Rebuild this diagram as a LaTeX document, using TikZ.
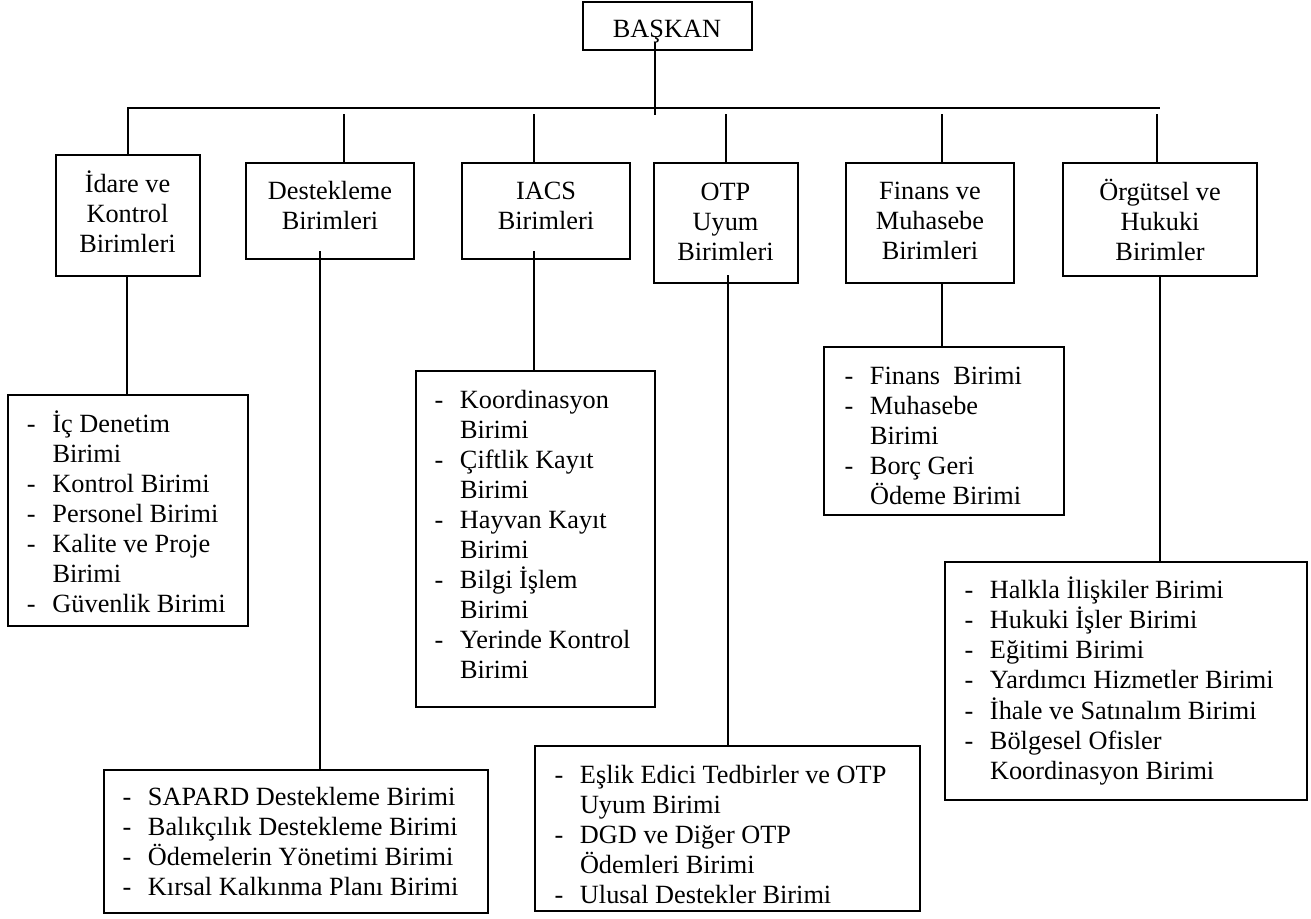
\documentclass[tikz,border=0pt]{standalone}
\usepackage{fontspec}
\setmainfont{Liberation Serif}
\usetikzlibrary{fit}
% list item: hanging dash, and continuation indent
\newcommand\itm{\makebox[25.5pt][l]{-}}
\newcommand\cnt{\hspace*{25.5pt}}
\begin{document}
\begin{tikzpicture}[x=1pt,y=-1pt,
  every node/.style={inner sep=0pt, outer sep=0pt},
  frame/.style={draw, line width=2pt, fit={#1}},
  conn/.style={line width=2pt},
  ttl/.style={font=\fontsize{26.3}{30}\selectfont, anchor=base},
  lst/.style={font=\fontsize{26.3}{30}\selectfont, anchor=base west}]

\useasboundingbox (0,0) rectangle (1311,918);
\fill[white] (0,0) rectangle (1311,918);

% ---------- boxes ----------
\node[frame={(583,2) (752,50)}] (baskan) {};
\node[frame={(56,155) (200,276)}] (idare) {};
\node[frame={(246,163) (414,259)}] (dest) {};
\node[frame={(462,163) (630,259)}] (iacs) {};
\node[frame={(654,163) (798,283)}] (otp) {};
\node[frame={(846,163) (1014,283)}] (fin) {};
\node[frame={(1063,163) (1257,276)}] (org) {};

\node[frame={(8,395) (248,626)}] (idareL) {};
\node[frame={(416,371) (655,707)}] (iacsL) {};
\node[frame={(104,770) (488,913)}] (destL) {};
\node[frame={(535,746) (920,911)}] (otpL) {};
\node[frame={(824,347) (1064,515)}] (finL) {};
\node[frame={(945,562) (1307,800)}] (orgL) {};

% ---------- titles ----------
\node[ttl] (baskanT) at (667,37) {BAŞKAN};
\node[ttl] (idareT) at (127.5,192) {\begin{tabular}[t]{@{}c@{}}İdare ve\\Kontrol\\Birimleri\end{tabular}};
\node[ttl] (destT) at (330,199) {\begin{tabular}[t]{@{}c@{}}Destekleme\\Birimleri\end{tabular}};
\node[ttl] (iacsT) at (546,199) {\begin{tabular}[t]{@{}c@{}}IACS\\Birimleri\end{tabular}};
\node[ttl] (otpT) at (725.5,200) {\begin{tabular}[t]{@{}c@{}}OTP\\Uyum\\Birimleri\end{tabular}};
\node[ttl] (finT) at (930,199) {\begin{tabular}[t]{@{}c@{}}Finans ve\\Muhasebe\\Birimleri\end{tabular}};
\node[ttl] (orgT) at (1160,200) {\begin{tabular}[t]{@{}c@{}}Örgütsel ve\\Hukuki\\Birimler\end{tabular}};

% ---------- unit lists ----------
\node[lst] (idareLT) at (27,432) {\begin{tabular}[t]{@{}l@{}}
\itm İç Denetim\\ \cnt Birimi\\ \itm Kontrol Birimi\\ \itm Personel Birimi\\
\itm Kalite ve Proje\\ \cnt Birimi\\ \itm Güvenlik Birimi\end{tabular}};
\node[lst] (iacsLT) at (434.5,408) {\begin{tabular}[t]{@{}l@{}}
\itm Koordinasyon\\ \cnt Birimi\\ \itm Çiftlik Kayıt\\ \cnt Birimi\\
\itm Hayvan Kayıt\\ \cnt Birimi\\ \itm Bilgi İşlem\\ \cnt Birimi\\
\itm Yerinde Kontrol\\ \cnt Birimi\end{tabular}};
\node[lst] (destLT) at (122.5,805) {\begin{tabular}[t]{@{}l@{}}
\itm SAPARD Destekleme Birimi\\ \itm Balıkçılık Destekleme Birimi\\
\itm Ödemelerin Yönetimi Birimi\\ \itm Kırsal Kalkınma Planı Birimi\end{tabular}};
\node[lst] (otpLT) at (554.5,783) {\begin{tabular}[t]{@{}l@{}}
\itm Eşlik Edici Tedbirler ve OTP\\ \cnt Uyum Birimi\\ \itm DGD ve Diğer OTP\\
\cnt Ödemleri Birimi\\ \itm Ulusal Destekler Birimi\end{tabular}};
\node[lst] (finLT) at (844.5,384) {\begin{tabular}[t]{@{}l@{}}
\itm Finans\ \ Birimi\\ \itm Muhasebe\\ \cnt Birimi\\ \itm Borç Geri\\
\cnt Ödeme Birimi\end{tabular}};
\node[lst] (orgLT) at (964.5,598) {\begin{tabular}[t]{@{}l@{}}
\itm Halkla İlişkiler Birimi\\ \itm Hukuki İşler Birimi\\ \itm Eğitimi Birimi\\
\itm Yardımcı Hizmetler Birimi\\ \itm İhale ve Satınalım Birimi\\
\itm Bölgesel Ofisler\\ \cnt Koordinasyon Birimi\end{tabular}};

% ---------- connectors ----------
\coordinate (busR) at (1160,108);
\draw[conn] ([xshift=-12.5pt,yshift=8pt]baskan.south) -- ++(0,73);
\draw[conn] (idare.north) |- (busR);
\foreach \n/\dx in {dest/14, iacs/-12, otp/0, fin/12, org/-3}
  \draw[conn] ([xshift=\dx pt]\n.north) -- ++(0,-49);

\draw[conn] ([xshift=-1pt]idare.south) coordinate (c1) -- (c1 |- idareL.north);
\draw[conn] ([xshift=-10pt,yshift=8pt]dest.south) coordinate (c2) -- (c2 |- destL.north);
\draw[conn] ([xshift=-12pt,yshift=8pt]iacs.south) coordinate (c3) -- (c3 |- iacsL.north);
\draw[conn] ([xshift=2pt,yshift=8pt]otp.south) coordinate (c4) -- (c4 |- otpL.north);
\draw[conn] ([xshift=12pt]fin.south) coordinate (c5) -- (c5 |- finL.north);
\draw[conn] (org.south) coordinate (c6) -- (c6 |- orgL.north);
\end{tikzpicture}
\end{document}
